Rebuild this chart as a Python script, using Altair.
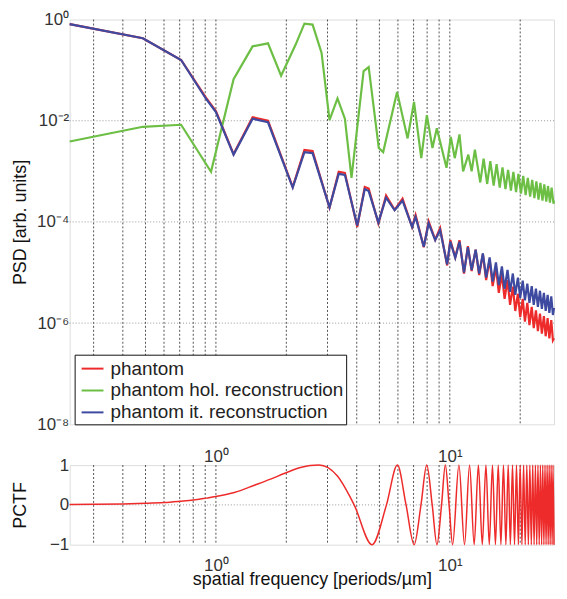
import altair as alt
import pandas as pd

FONT = "Liberation Sans"

# ---- PSD panel data (f in periods/um, values as log10 of PSD) ----
phantom_f = [0.237, 0.487, 0.71, 0.908, 1.0, 1.19, 1.435, 1.67, 2.13, 2.39, 2.59, 3.06, 3.35, 3.56,
             4.02, 4.33, 4.5, 4.95, 5.34, 5.81, 6.28, 6.9, 7.14, 7.74, 8.12, 8.66, 9.09, 9.74, 10.05,
             10.55, 11.0, 11.5, 11.95, 12.4, 12.9, 13.35, 13.85, 14.3, 14.8, 15.25, 15.75, 16.2, 16.7,
             17.15, 17.65, 18.1, 18.6, 19.05, 19.55, 20.0, 20.5, 20.95, 21.45, 21.9, 22.4, 22.85,
             23.35, 23.8, 24.3, 24.75, 25.25, 25.7, 26.2, 26.65, 27.15, 27.6, 27.9]
phantom_log = [-0.09, -0.37, -0.80, -1.55, -1.81, -2.66, -1.93, -2.00, -3.31, -2.58, -2.60, -3.72,
               -3.01, -3.03, -4.10, -3.31, -3.34, -4.03, -3.48, -3.76, -3.54, -4.10, -3.86, -4.50,
               -3.99, -4.35, -4.12, -4.86, -4.36, -4.70, -4.36, -5.02,
               -4.48, -4.97, -4.55, -5.05, -4.64, -5.15, -4.75, -5.27, -4.90, -5.40, -5.03, -5.52,
               -5.15, -5.64, -5.28, -5.76, -5.42, -5.88, -5.52, -5.97, -5.60, -6.04, -5.68, -6.10,
               -5.75, -6.16, -5.81, -6.21, -5.86, -6.26, -5.90, -6.30, -5.94, -6.34, -6.30]

it_f = phantom_f
it_log = [-0.09, -0.37, -0.80, -1.57, -1.83, -2.67, -1.96, -2.03, -3.32, -2.62, -2.64, -3.71,
          -3.05, -3.07, -4.07, -3.35, -3.39, -4.01, -3.52, -3.77, -3.58, -4.10, -3.90, -4.49,
          -4.03, -4.36, -4.16, -4.84, -4.39, -4.71, -4.39, -5.00,
          -4.50, -4.95, -4.55, -5.02, -4.62, -5.10, -4.70, -5.18, -4.80, -5.25, -4.88, -5.32,
          -4.95, -5.38, -5.02, -5.44, -5.10, -5.50, -5.16, -5.55, -5.22, -5.60, -5.27, -5.64,
          -5.32, -5.68, -5.36, -5.72, -5.40, -5.76, -5.44, -5.80, -5.47, -5.84, -5.70]

hol_f = [0.237, 0.487, 0.71, 0.953, 1.19, 1.435, 1.67, 1.9, 2.19, 2.39, 2.59, 2.83, 3.06, 3.31,
         3.56, 3.8, 4.28, 4.5, 4.97, 5.19, 5.95, 6.6, 7.03, 7.55, 7.98, 8.43, 8.8, 9.68, 10.1,
         10.5, 11.0, 11.4, 12.0, 12.4, 12.8, 13.5, 13.95, 14.45, 14.9, 15.4, 15.85, 16.35, 16.8,
         17.3, 17.75, 18.25, 18.7, 19.2, 19.65, 20.15, 20.6, 21.1, 21.55, 22.05, 22.5, 23.0,
         23.45, 23.95, 24.4, 24.9, 25.35, 25.85, 26.3, 26.8, 27.25, 27.75, 27.9]
hol_log = [-2.41, -2.12, -2.08, -3.01, -1.18, -0.53, -0.47, -1.11, -0.50, -0.08, -0.10, -0.66,
           -1.99, -1.56, -1.96, -3.13, -1.02, -0.94, -2.54, -2.62, -1.43, -2.35, -1.63, -2.74,
           -1.89, -2.54, -2.15, -2.93, -2.32, -2.74, -2.27, -3.00, -2.67, -3.00, -2.57, -3.22,
           -2.75, -3.25, -2.80, -3.28, -2.86, -3.32, -2.92, -3.35, -2.97, -3.38, -3.01, -3.41,
           -3.05, -3.44, -3.09, -3.47, -3.13, -3.50, -3.17, -3.53, -3.20, -3.56, -3.23, -3.58,
           -3.26, -3.60, -3.29, -3.62, -3.32, -3.64, -3.58]

series_names = ["phantom", "phantom hol. reconstruction", "phantom it. reconstruction"]
series_colors = ["#ee2b2b", "#6cbf44", "#3e4aa0"]

# ---- PCTF panel data ----
pctf_f = [0.237, 0.3, 0.4, 0.5, 0.6, 0.7, 0.8, 0.91, 1.0, 1.2, 1.47, 1.7, 2.02, 2.3, 2.53, 2.76,
          3.3, 3.9, 4.65, 5.36, 5.97, 6.5, 7.04, 7.53, 7.97, 8.41, 8.81, 9.22, 9.57, 9.93, 10.28,
          10.94, 11.56, 12.15, 12.71, 13.25, 13.77, 14.27, 14.75, 15.22, 15.67, 16.11, 16.54,
          16.96, 17.37, 17.77, 18.15, 18.54, 18.91, 19.28, 19.64, 19.99, 20.34, 20.68, 21.01,
          21.34, 21.67, 21.99, 22.31, 22.62, 22.93, 23.23, 23.53, 23.82, 24.12, 24.40, 24.69,
          24.97, 25.25, 25.53, 25.80, 26.07, 26.34, 26.60, 26.86, 27.12, 27.38, 27.63, 27.89]
pctf_v = [0.01, 0.015, 0.025, 0.04, 0.06, 0.09, 0.12, 0.17, 0.21, 0.31, 0.5, 0.64, 0.82, 0.94, 0.99, 1.0,
          0.73, 0.0, -1, 0, 1, 0, -1, 0, 1, 0, -1, 0, 1, 0, -1,
          1, -1, 1, -1, 1, -1, 1, -1, 1, -1, 1, -1,
          1, -1, 1, -1, 1, -1, 1, -1, 1, -1, 1, -1,
          1, -1, 1, -1, 1, -1, 1, -1, 1, -1, 1, -1,
          1, -1, 1, -1, 1, -1, 1, -1, 1, -1, 1, -1]

grid_x = [0.3, 0.4, 0.5, 0.6, 0.7, 0.8, 0.9, 1, 2, 3, 4, 5, 6, 7, 8, 9, 10, 20]
grid_y_psd = [1e-2, 1e-4, 1e-6]
grid_y_pctf = [0]
x_domain = [0.237, 27.9]

# ---- frames ----
frames = []
for name, fs, lv in [(series_names[0], phantom_f, phantom_log),
                     (series_names[1], hol_f, hol_log),
                     (series_names[2], it_f, it_log)]:
    frames.append(pd.DataFrame({"f": fs, "psd": [10 ** v for v in lv], "series": name}))
psd_df = pd.concat(frames, ignore_index=True)
psd_df["order"] = range(len(psd_df))
pctf_df = pd.DataFrame({"f": pctf_f, "pctf": pctf_v})

xscale = alt.Scale(type="log", domain=x_domain, nice=False)

common_axis = dict(labelFont=FONT, labelFontSize=17, labelColor="#333", titleFont=FONT,
                   titleFontSize=18, titleFontWeight="normal", titleColor="#111",
                   grid=False, ticks=False, domain=False, labelOverlap=False)

x_axis_top = alt.Axis(values=[1, 10], labelExpr="datum.value < 5 ? '10⁰' : '10¹'",
                      title=None, labelPadding=24, labelFlush=False, **common_axis)
x_axis_bot = alt.Axis(values=[1, 10], labelExpr="datum.value < 5 ? '10⁰' : '10¹'",
                      title="spatial frequency [periods/µm]", labelPadding=13, titlePadding=-3,
                      labelFlush=False, **common_axis)
y_axis_top = alt.Axis(values=[1e-8, 1e-6, 1e-4, 1e-2, 1],
                      labelExpr="datum.value > 0.5 ? '10⁰' : datum.value > 0.005 ? '10⁻²' : "
                                "datum.value > 0.00005 ? '10⁻⁴' : datum.value > 0.0000005 ? '10⁻⁶' : '10⁻⁸'",
                      title="PSD [arb. units]", labelPadding=1, titlePadding=4,
                      minExtent=36, maxExtent=36, **common_axis)
y_axis_bot = alt.Axis(values=[-1, 0, 1],
                      labelExpr="datum.value < -0.5 ? '−1' : datum.value > 0.5 ? '1' : '0'",
                      title="PCTF", labelPadding=1, titlePadding=4,
                      minExtent=36, maxExtent=36, **common_axis)

yscale_top = alt.Scale(type="log", domain=[1e-8, 1], nice=False)
yscale_bot = alt.Scale(domain=[-1, 1], nice=False)

W = 487
H_TOP = 407
vgrid_top = alt.Chart(pd.DataFrame({"f": grid_x})).mark_rule(
    color="#111", strokeDash=[2, 2], strokeWidth=0.9, opacity=0.8
).encode(x=alt.X("f:Q", scale=xscale, axis=x_axis_top))
hgrid_top = alt.Chart(pd.DataFrame({"psd": grid_y_psd})).mark_rule(
    color="#999", strokeDash=[1, 2], strokeWidth=1
).encode(y=alt.Y("psd:Q", scale=yscale_top, axis=y_axis_top))
lines_top = alt.Chart(psd_df).mark_line(strokeWidth=2.2).encode(
    x=alt.X("f:Q", scale=xscale, axis=x_axis_top),
    y=alt.Y("psd:Q", scale=yscale_top, axis=y_axis_top),
    color=alt.Color("series:N",
                    scale=alt.Scale(domain=series_names, range=series_colors),
                    legend=alt.Legend(orient="none", legendX=5, legendY=H_TOP - 70,
                                      direction="vertical",
                                      title=None, fillColor="white", strokeColor="#111",
                                      padding=2, symbolType="stroke", symbolStrokeWidth=2,
                                      symbolSize=484, symbolOffset=4, labelFontSize=19,
                                      labelFont=FONT, labelColor="#222", rowPadding=0,
                                      labelOffset=6, labelLimit=400, cornerRadius=0)),
    order=alt.Order("order:Q"),
)
top = alt.layer(vgrid_top, hgrid_top, lines_top).properties(width=W, height=H_TOP)

vgrid_bot = alt.Chart(pd.DataFrame({"f": grid_x})).mark_rule(
    color="#111", strokeDash=[2, 2], strokeWidth=0.9, opacity=0.8
).encode(x=alt.X("f:Q", scale=xscale, axis=x_axis_bot))
hgrid_bot = alt.Chart(pd.DataFrame({"pctf": grid_y_pctf})).mark_rule(
    color="#999", strokeDash=[1, 2], strokeWidth=1
).encode(y=alt.Y("pctf:Q", scale=yscale_bot, axis=y_axis_bot))
line_bot = alt.Chart(pctf_df).mark_line(strokeWidth=1.5, color="#ee2b2b", interpolate="monotone").encode(
    x=alt.X("f:Q", scale=xscale, axis=x_axis_bot),
    y=alt.Y("pctf:Q", scale=yscale_bot, axis=y_axis_bot),
)
bottom = alt.layer(vgrid_bot, hgrid_bot, line_bot).properties(width=W, height=80)

chart = alt.vconcat(top, bottom, spacing=-16).properties(
    padding={"left": 3, "top": 0, "right": 0, "bottom": 0}
).configure_view(stroke="#333", strokeWidth=1.5).configure(font=FONT)

chart.save("out.html", embed_options={"renderer": "svg", "actions": False})
